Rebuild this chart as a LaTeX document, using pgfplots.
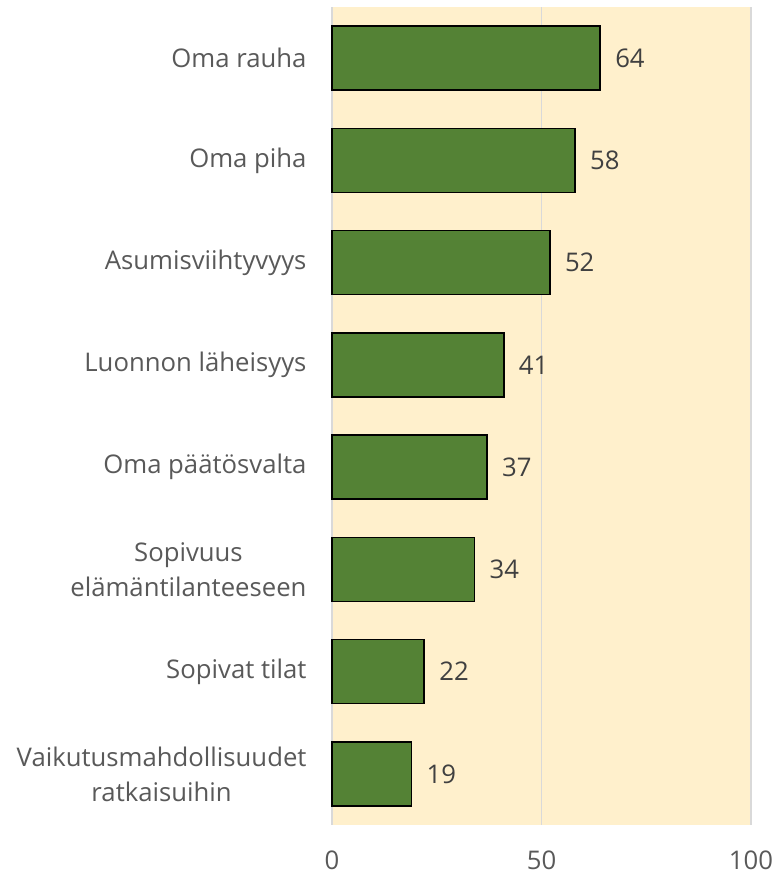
\documentclass[border=0pt]{standalone}
\usepackage{fontspec}
\setmainfont{Open Sans}
\usepackage{pgfplots}
\pgfplotsset{compat=1.18}
\definecolor{barg}{HTML}{548235}
\definecolor{bgy}{HTML}{FFF0CC}
\definecolor{gridc}{HTML}{D9D9D9}
\definecolor{txt}{HTML}{595959}
\definecolor{vtxt}{HTML}{404040}
\begin{document}
\begin{tikzpicture}
\begin{axis}[
  name=ax,
  scale only axis,
  width=419bp, height=818bp,
  xmin=0, xmax=100,
  ymin=-0.5, ymax=7.5,
  y dir=reverse,
  xbar, bar width=64bp,
  axis background/.style={fill=bgy},
  axis line style={draw=none},
  xtick={0,50,100},
  xmajorgrids, grid style={gridc, line width=1.2bp},
  major tick length=0pt,
  ytick={0,...,7},
  yticklabels={Oma rauha, Oma piha, Asumisviihtyvyys, Luonnon läheisyys, Oma päätösvalta, {Sopivuus\\elämäntilanteeseen}, Sopivat tilat, {Vaikutusmahdollisuudet\\ratkaisuihin}},
  yticklabel style={align=center, font=\fontsize{25.7bp}{35bp}\selectfont, text=txt, xshift=-22bp},
  xticklabel style={font=\fontsize{25.7bp}{35bp}\selectfont, text=txt, yshift=-22bp},
  /pgf/number format/assume math mode=true,
  nodes near coords,
  nodes near coords style={font=\fontsize{25.7bp}{35bp}\selectfont, text=vtxt, xshift=11bp},
  clip=false,
]
\addplot[fill=barg, draw=black, line width=1.6bp] coordinates {
(64,0) (58,1) (52,2) (41,3) (37,4) (34,5) (22,6) (19,7)
};
\end{axis}
\pgfresetboundingbox
\path ([xshift=-332bp,yshift=-51bp]ax.south west) rectangle ([xshift=25bp,yshift=7bp]ax.north east);
\end{tikzpicture}
\end{document}
